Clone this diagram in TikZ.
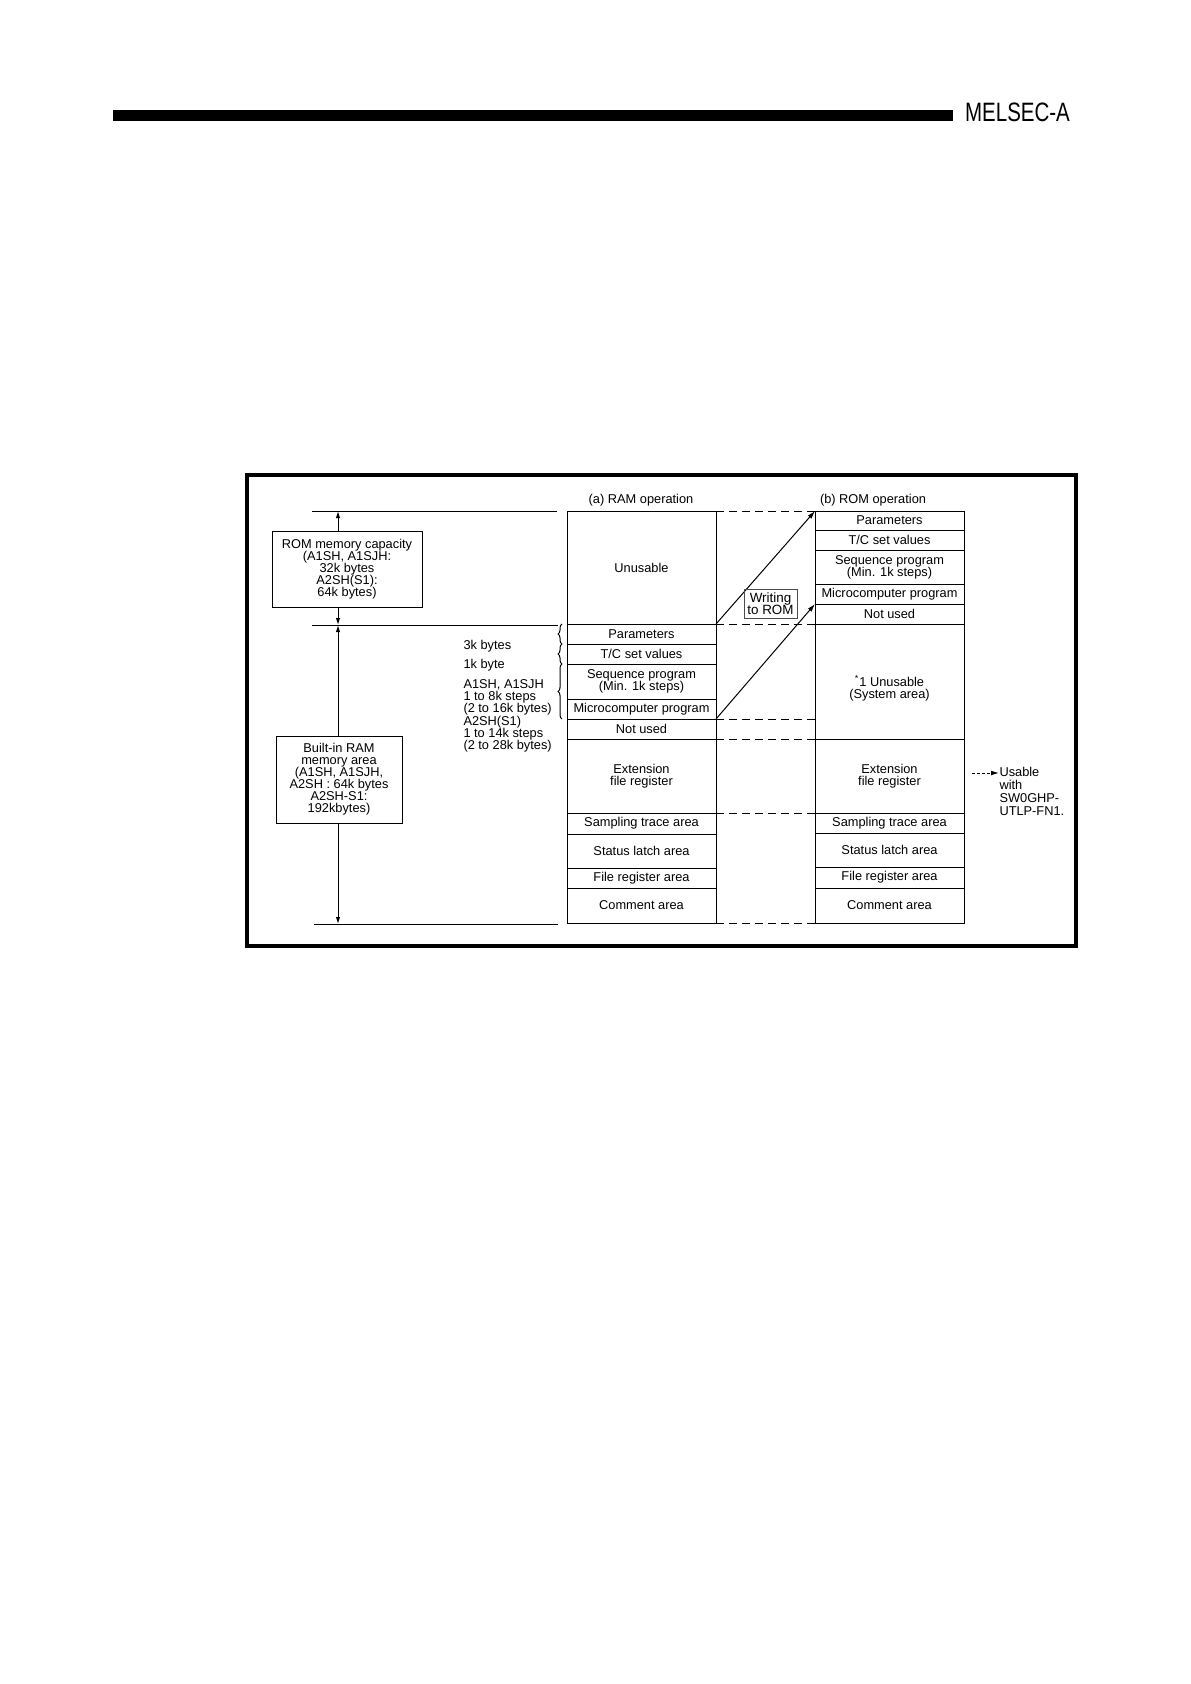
\documentclass[tikz,border=0pt]{standalone}
\usepackage{fontspec}
\setmainfont{Liberation Sans}
\usetikzlibrary{positioning,arrows.meta,decorations.pathreplacing}
\lineskiplimit=-4pt\relax

\begin{document}
\begin{tikzpicture}[
    x=0.5pt, y=-0.5pt,
    line width=0.5pt,
    font=\fontsize{6.4}{6}\selectfont,
    cell/.style={rectangle, draw, minimum width=74.5pt, inner sep=0pt, outer sep=0pt, align=center},
    capbox/.style={rectangle, draw, fill=white, align=center, inner sep=0pt},
    lbl/.style={inner sep=0pt, align=left},
    gap/.style={dash pattern=on 4pt off 2.5pt},
    dim/.style={{Latex[length=3.5pt,width=2.2pt]}-{Latex[length=3.5pt,width=2.2pt]}},
    >={Latex[length=4pt,width=2.4pt]}
  ]
    \useasboundingbox (0,0) rectangle (1190,1684);

    % page header
    \fill (113,110) rectangle (953,121);
    \node[inner sep=0pt] (hdr) at (1017.5,112.5)
      {\scalebox{0.77}[1]{\fontsize{13.3}{14}\selectfont MELSEC-A}};

    % figure frame
    \draw[line width=1.6pt] (247,475) rectangle (1076,946);

    % (a) RAM operation
    \node (ttlA) at (641,500) {(a) RAM operation};
    \node[cell, minimum height=56.5pt, anchor=north] (ramU) at (641.5,511) {Unusable};
    \node[cell, minimum height=10pt, below=0pt of ramU] (ramPar) {Parameters};
    \node[cell, minimum height=10pt, below=0pt of ramPar] (ramTC) {T/C set values};
    \node[cell, minimum height=17.5pt, below=0pt of ramTC] (ramSeq) {Sequence program\\(Min. 1k steps)};
    \node[cell, minimum height=10pt, below=0pt of ramSeq] (ramMic) {Microcomputer program};
    \node[cell, minimum height=10pt, below=0pt of ramMic] (ramNot) {Not used};
    \node[cell, minimum height=37pt, below=0pt of ramNot] (ramExt) {Extension\\file register};
    \node[cell, minimum height=10.5pt, below=0pt of ramExt] (ramSmp) {Sampling trace area};
    \node[cell, minimum height=17pt, below=0pt of ramSmp] (ramSta) {Status latch area};
    \node[cell, minimum height=10pt, below=0pt of ramSta] (ramFil) {File register area};
    \node[cell, minimum height=17.5pt, below=0pt of ramFil] (ramCom) {Comment area};

    % (b) ROM operation
    \node (ttlB) at (873,500) {(b) ROM operation};
    \node[cell, minimum height=9.5pt, anchor=north] (romPar) at (889.5,511) {Parameters};
    \node[cell, minimum height=10pt, below=0pt of romPar] (romTC) {T/C set values};
    \node[cell, minimum height=17pt, below=0pt of romTC] (romSeq) {Sequence program\\(Min. 1k steps)};
    \node[cell, minimum height=10pt, below=0pt of romSeq] (romMic) {Microcomputer program};
    \node[cell, minimum height=10pt, below=0pt of romMic] (romNot) {Not used};
    \node[cell, minimum height=57.5pt, below=0pt of romNot] (romSys) {};
    \node[lbl, align=center] (romSysT) at ([yshift=-3.5pt]romSys.center) {\textsuperscript{*}1 Unusable\\(System area)};
    \node[cell, minimum height=37pt, below=0pt of romSys] (romExt) {Extension\\file register};
    \node[cell, minimum height=10pt, below=0pt of romExt] (romSmp) {Sampling trace area};
    \node[cell, minimum height=17pt, below=0pt of romSmp] (romSta) {Status latch area};
    \node[cell, minimum height=10.5pt, below=0pt of romSta] (romFil) {File register area};
    \node[cell, minimum height=17.5pt, below=0pt of romFil] (romCom) {Comment area};

    % dashed boundaries between the two maps
    \draw[gap] (ramU.north east) -- (romPar.north west);
    \draw[gap] (ramU.south east) -- (romSys.north west);
    \draw[gap] (ramMic.south east) -- (ramMic.south east -| romSys.west);
    \draw[gap] (ramNot.south east) -- (romExt.north west);
    \draw[gap] (ramExt.south east) -- (romSmp.north west);
    \draw[gap] (ramCom.south east) -- (romCom.south west);

    % writing to ROM
    \draw[->] (ramU.south east) -- (romPar.north west);
    \draw[->] (ramMic.south east) -- (romMic.south west);
    \node[rectangle, draw=black!70, minimum width=26.5pt, minimum height=14.5pt,
      inner sep=0pt, align=center, font=\fontsize{6.7}{6.2}\selectfont] (wrt) at (770.5,603.5) {Writing\\to ROM};

    % sizes of the RAM areas
    \draw[decorate, decoration={brace, amplitude=2pt}]
      ([xshift=-2.5pt]ramPar.south west) -- ([xshift=-2.5pt]ramPar.north west);
    \draw[decorate, decoration={brace, amplitude=2pt}]
      ([xshift=-2.5pt]ramTC.south west) -- ([xshift=-2.5pt]ramTC.north west);
    \draw[decorate, decoration={brace, amplitude=2pt}]
      ([xshift=-2.5pt]ramMic.south west) -- ([xshift=-2.5pt]ramSeq.north west);
    \node[lbl, anchor=west] (kb3) at (463,646) {3k bytes};
    \node[lbl, anchor=west] (kb1) at (463,665) {1k byte};
    \node[lbl, anchor=north west, font=\fontsize{6.4}{6.1}\selectfont] (stp) at (463,679)
      {A1SH, A1SJH\\1 to 8k steps\\(2 to 16k bytes)\\A2SH(S1)\\1 to 14k steps\\(2 to 28k bytes)};

    % dimension lines on the left
    \coordinate (topL) at (312,511);
    \coordinate (topR) at (557,511);
    \coordinate (midL) at (312,625);
    \coordinate (midR) at (558,625);
    \coordinate (botL) at (314,924);
    \coordinate (botR) at (558,924);
    \draw (topL) -- (topR);
    \draw (midL) -- (midR);
    \draw (botL) -- (botR);
    \coordinate (dimT) at (338,511);
    \coordinate (dimM) at (338,625);
    \coordinate (dimB) at (338,924);
    \draw[dim] (dimM) -- (dimT);
    \draw[dim] (dimM) -- (dimB);
    \node[capbox, minimum width=75pt, minimum height=38pt] (romCap) at (347,569)
      {ROM memory capacity\\(A1SH, A1SJH:\\32k bytes\\A2SH(S1):\\64k bytes)};
    \node[capbox, minimum width=63pt, minimum height=43.5pt] (ramArea) at (339,779.5)
      {Built-in RAM\\memory area\\(A1SH, A1SJH,\\A2SH : 64k bytes\\A2SH-S1:\\192kbytes)};

    % note on the extension file register
    \coordinate (usTail) at (972,773);
    \node[lbl, anchor=north west, font=\fontsize{6.4}{6.5}\selectfont] (usable) at (999,767)
      {Usable\\with\\SW0GHP-\\UTLP-FN1.};
    \draw[dash pattern=on 1.5pt off 1pt, ->] (usTail) -- (usTail -| usable.west);
  \end{tikzpicture}
\end{document}
